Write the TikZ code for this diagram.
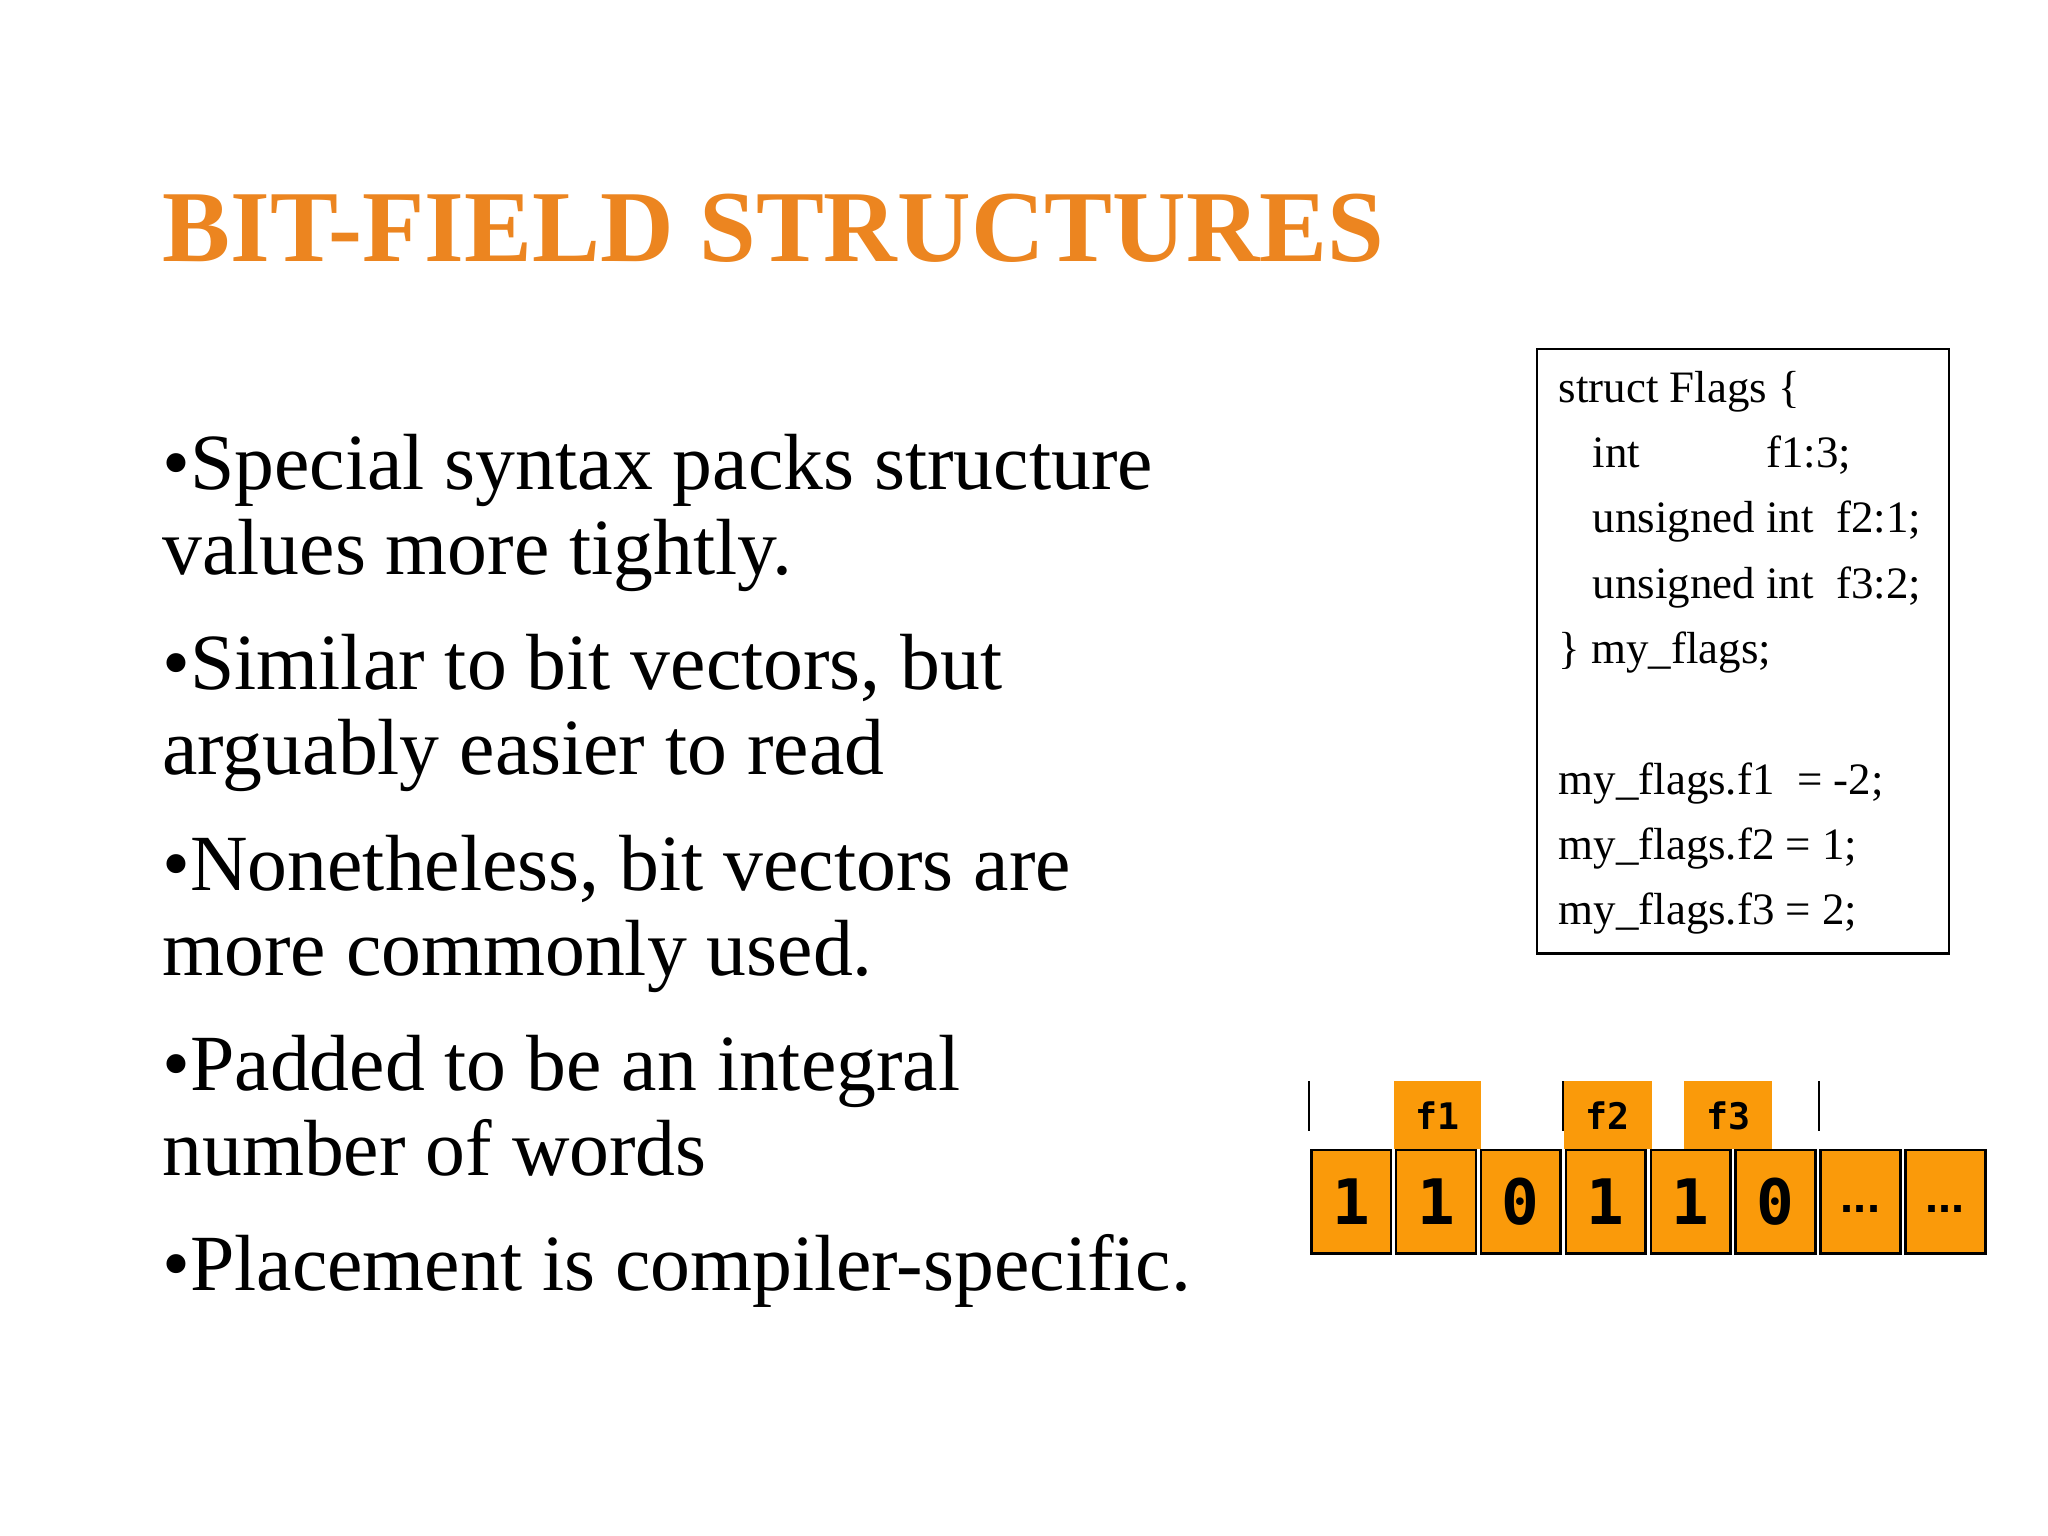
\documentclass[tikz,border=0pt]{standalone}
\usepackage{fontspec}
\setmainfont{Liberation Serif}
\newfontfamily\bitfont{DejaVu Sans Mono}
\newfontfamily\dotfont{Liberation Sans}
\definecolor{ttl}{HTML}{EC8520}
\definecolor{bitor}{HTML}{FA9A0A}
\begin{document}
\begin{tikzpicture}[x=0.5pt,y=-0.5pt,
  bull/.style={anchor=base west,inner sep=0,font=\fontsize{30.5}{32.5}\selectfont},
  code/.style={anchor=base west,inner sep=0,font=\fontsize{17.2}{20}\selectfont},
  bitbox/.style={draw=black,line width=1pt,fill=bitor,minimum width=30.5pt,minimum height=39.5pt,inner sep=0,font=\bitfont\bfseries\fontsize{24}{24}\selectfont},
  lbl/.style={fill=bitor,minimum width=33.5pt,minimum height=26pt,inner sep=0,font=\bitfont\bfseries\fontsize{14}{14}\selectfont},
  tick/.style={line width=0.8pt}]
\useasboundingbox[fill=white] (0,0) rectangle (1568,1176);
\node[anchor=base west,inner sep=0,text=ttl,font=\fontsize{39}{39}\selectfont\bfseries] (title) at (124,200) {BIT-FIELD STRUCTURES};
\node[bull] (b1) at (124,375) {•Special syntax packs structure};
\node[bull] (b1b) at (124,440) {values more tightly.};
\node[bull] (b2) at (124,528) {•Similar to bit vectors, but};
\node[bull] (b2b) at (124,593) {arguably easier to read};
\node[bull] (b3) at (124,682) {•Nonetheless, bit vectors are};
\node[bull] (b3b) at (124,747) {more commonly used.};
\node[bull] (b4) at (124,835) {•Padded to be an integral};
\node[bull] (b4b) at (124,900) {number of words};
\node[bull] (b5) at (124,988) {•Placement is compiler-specific.};
% code box
\draw[line width=0.8pt] (1177,267) rectangle (1492,730);
\node[code] (c1) at (1193,308) {struct Flags \{};
\node[code] (c2) at (1219,358) {int};
\node[code] (c2b) at (1352,358) {f1:3;};
\node[code] (c3) at (1219,408) {unsigned int\ \ f2:1;};
\node[code] (c4) at (1219,458) {unsigned int\ \ f3:2;};
\node[code] (c5) at (1193,508) {\} my\_flags;};
\node[code] (c6) at (1193,608) {my\_flags.f1\ \ = -2;};
\node[code] (c7) at (1193,658) {my\_flags.f2 = 1;};
\node[code] (c8) at (1193,708) {my\_flags.f3 = 2;};
% labels
\node[lbl] (l1) at (1100.5,854) {f1};
\node[lbl] (l2) at (1231,854) {f2};
\node[lbl] (l3) at (1323,854) {f3};
% bits
\foreach \v [count=\i] in {1,1,0,1,1,0,D,D}{
  \node[bitbox] (bit\i) at ({1002+32.4+65*(\i-1)},920) {\if D\v\raisebox{-0.35em}{\dotfont\bfseries\fontsize{18}{18}\selectfont...}\else\v\fi};
}
\coordinate (t1a) at (1002,828); \coordinate (t1b) at (1002,866);
\coordinate (t2a) at (1197,828); \coordinate (t2b) at (1197,866);
\coordinate (t3a) at (1393,828); \coordinate (t3b) at (1393,866);
\draw[tick] (t1a)--(t1b); \draw[tick] (t2a)--(t2b); \draw[tick] (t3a)--(t3b);
\end{tikzpicture}
\end{document}
